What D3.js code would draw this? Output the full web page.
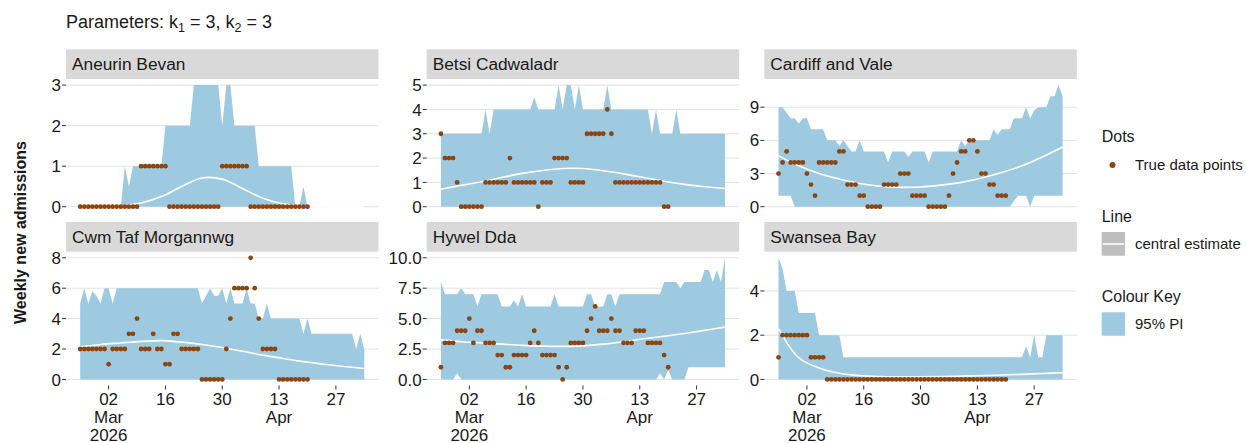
<!DOCTYPE html>
<html>
<head>
<meta charset="utf-8">
<script src="https://cdn.jsdelivr.net/npm/d3@7"></script>
<style>
body { margin: 0; background: #fff; }
text { font-family: "Liberation Sans", Arial, sans-serif; fill: #1a1a1a; }
</style>
</head>
<body>
<div class="container"></div>
<script>
// ---- data ----
var regionNames = ["Aneurin Bevan", "Betsi Cadwaladr", "Cardiff and Vale",
                   "Cwm Taf Morgannwg", "Hywel Dda", "Swansea Bay"];
var firstDay = "2026-02-23";           // day 0, daily steps
var centralDays = [0, 5, 10, 15, 20, 25, 30, 35, 40, 45, 50, 55, 60, 65, 70];

var aneurinDots = [0,0,0,0,0,0,0,0,0,0, 0,0,0,0,0,1,1,1,1,1, 1,1,0,0,0,0,0,0,0,0, 0,0,0,0,0,1,1,1,1,1, 1,1,0,0,0,0,0,0,0,0, 0,0,0,0,0,0,0];
var aneurinUpper = [0,0,0,0,0,0,0,0,0,0, 0,1,0.5,1,1,1,1,1,1,1, 1,2,2,2,2,2,2,2,3,3, 3,3,3,3,3,2,3,3,2,2, 2,2,2,2,1,1,1,1,1,1, 1,1,1,0,0,0.5,0,0,0,0, 0,0,0,0,0,0,0,0,0,0, 0];
var aneurinLower = [0,0,0,0,0,0,0,0,0,0, 0,0,0,0,0,0,0,0,0,0, 0,0,0,0,0,0,0,0,0,0, 0,0,0,0,0,0,0,0,0,0, 0,0,0,0,0,0,0,0,0,0, 0,0,0,0,0,0,0,0,0,0, 0,0,0,0,0,0,0,0,0,0, 0];
var aneurinCentral = [0, 0.005, 0.02, 0.09, 0.25, 0.5, 0.71, 0.68, 0.45, 0.21, 0.07, 0.015, 0, 0, 0];

var betsiDots = [3,2,2,2,1,0,0,0,0,0, 0,1,1,1,1,1,1,2,1,1, 1,1,1,1,0,1,1,1,2,2, 2,2,1,1,1,1,3,3,3,3, 3,4,3,1,1,1,1,1,1,1, 1,1,1,1,1,0,0];
var betsiUpper = [3,3,3,3,3,3,3,3,3,3, 3,4,3,4,4,4,4,4,4,4, 4,4,4,4.5,4,4,4,4,4,5, 4,5,5,4,5,4,4,4,4,4, 4,5,4,4,4,4,4,4,4,4, 4,4,3,4,3,3,3,3,4,3, 3,3,3,3,3,3,3,3,3,3, 3];
var betsiLower = [0,0,0,0,0,0,0,0,0,0, 0,0,0,0,0,0,0,0,0,0, 0,0,0,0,0,0,0,0,0,0, 0,0,0,0,0,0,0,0,0,0, 0,0,0,0,0,0,0,0,0,0, 0,0,0,0,0,0,0,0,0,0, 0,0,0,0,0,0,0,0,0,0, 0];
var betsiCentral = [0.72, 0.88, 1.03, 1.2, 1.37, 1.49, 1.57, 1.57, 1.48, 1.35, 1.2, 1.05, 0.92, 0.82, 0.75];

var cardiffDots = [3,4,5,4,4,4,4,3,2,1, 4,4,4,4,4,5,5,2,2,2, 1,1,0,0,0,0,2,2,2,2, 3,3,3,1,1,1,1,0,0,0, 0,0,1,3,4,5,5,6,6,5, 3,3,2,2,1,1,1];
var cardiffUpper = [9,9,8.5,8,8,7.5,8,8,7,7, 7,7,6,6,6,5.5,6,5.5,5,5, 6,5,5,5,5,5,5,4,5,5, 5,5,4.5,5,5,5,5,4,5,5, 5,5,5,5,5,6,5.5,6,6,6, 6,6,6,7,6.5,7,7,7,8,8, 8,9,8,8.7,9,9,9,10,10,11, 10];
var cardiffLower = [1,1,1,1,0,0,0,0,0,0, 0,0,0,0,0,0,0,0,0,0, 0,0,0,0,0,0,0,0,0,0, 0,0,0,0,0,0,0,0,0,0, 0,0,0,0,0,0,0,0,0,0, 0,0,0,0,0,0,0,0,0.5,1, 1,1,0,1,1,1,1,1,1,1, 1];
var cardiffCentral = [4.6, 3.7, 3.0, 2.5, 2.1, 1.85, 1.75, 1.78, 1.95, 2.2, 2.6, 3.1, 3.7, 4.5, 5.4];

var cwmDots = [2,2,2,2,2,2,2,1,2,2, 2,2,3,3,4,2,2,2,3,2, 2,1,1,3,3,2,2,2,2,2, 0,0,0,0,0,0,2,4,6,6, 6,6,8,6,4,2,2,2,2,0, 0,0,0,0,0,0,0];
var cwmUpper = [5,6,5,5.8,5.5,5,6,6,5,6, 6,6,6,6,6,6,6,6,6,6, 6,6,6,6,6,6,6,6,6,6, 5,5.5,6,5.5,5.5,6,5,6,5,5, 5,6,5,5,4,4,5,4,4,4, 4,4,4,4,4,3,4,3,3,3, 3,3,3,3,3,3,3,3,2,3, 2];
var cwmLower = [0,0,0,0,0,0,0,0,0,0, 0,0,0,0,0,0,0,0,0,0, 0,0,0,0,0,0,0,0,0,0, 0,0,0,0,0,0,0,0,0,0, 0,0,0,0,0,0,0,0,0,0, 0,0,0,0,0,0,0,0,0,0, 0,0,0,0,0,0,0,0,0,0, 0];
var cwmCentral = [2.15, 2.3, 2.4, 2.5, 2.55, 2.45, 2.3, 2.1, 1.85, 1.6, 1.38, 1.17, 1.0, 0.85, 0.72];

var hywelDots = [1,3,3,3,4,4,4,5,3,4, 4,3,3,3,2,2,1,1,2,2, 2,2,3,4,3,2,2,2,2,1, 0,1,3,3,3,3,4,5,6,4, 4,4,5,4,4,3,3,3,4,4, 4,3,3,3,3,2,1];
var hywelUpper = [8,7,7,7,7,7.5,7,7,7,6, 7,7,7,7,7,6,6,6,6.5,6, 7,6,6,6,6,6,6,6,7,6, 6,6,6,6,6,6,7,7,6,6, 6,7,7,6,7,7,7,7,7,7, 7,7,7,7,7,8,8,8,8,7.5, 8,8,8,8,8,9,9,8,9,8, 10];
var hywelLower = [0,0,0,0,0.5,0,0,0,0,0, 0,0,0,0,0,0,0,0,0,0, 0,0,0,0,0,0,0,0,0,0, 0,0,0,0,0,0,0,0,0,0, 0,0,0,0,0,0,0,0,0,0, 0,0,0,0,0.5,0,0.8,0,0,0, 0,1,1,1,1,1,1,1,1,1, 1];
var hywelCentral = [3.25, 3.1, 3.0, 2.9, 2.8, 2.74, 2.72, 2.76, 2.9, 3.1, 3.34, 3.55, 3.78, 4.03, 4.3];

var swanseaDots = [1,2,2,2,2,2,2,2,1,1, 1,1,0,0,0,0,0,0,0,0, 0,0,0,0,0,0,0,0,0,0, 0,0,0,0,0,0,0,0,0,0, 0,0,0,0,0,0,0,0,0,0, 0,0,0,0,0,0,0];
var swanseaUpper = [5.5,5,4,4,4,3,3,3,3,3, 2,2,2,2,2,2,1,1,1,1, 1,1,1,1,1,1,1,1,1,1, 1,1,1,1,1,1,1,1,1,1, 1,1,1,1,1,1,1,1,1,1, 1,1,1,1,1,1,1,1,1,1, 1,1.5,1,2,1,1,2,2,2,2, 2];
var swanseaLower = [0,0,0,0,0,0,0,0,0,0, 0,0,0,0,0,0,0,0,0,0, 0,0,0,0,0,0,0,0,0,0, 0,0,0,0,0,0,0,0,0,0, 0,0,0,0,0,0,0,0,0,0, 0,0,0,0,0,0,0,0,0,0, 0,0,0,0,0,0,0,0,0,0, 0];
var swanseaCentral = [2.3, 0.98, 0.52, 0.28, 0.17, 0.13, 0.12, 0.12, 0.13, 0.15, 0.17, 0.2, 0.23, 0.27, 0.3];

// y ticks per panel (free y scales)
var yTicks = [[0,1,2,3], [0,1,2,3,4,5], [0,3,6,9], [0,2,4,6,8], [0,2.5,5,7.5,10], [0,2,4]];
var yTickFormat = ["d", "d", "d", "d", ".1f", "d"];

// x ticks
var xTickDates = ["2026-03-02", "2026-03-16", "2026-03-30", "2026-04-13", "2026-04-27"];
var xTickLabels = [["02", "Mar", "2026"], ["16"], ["30"], ["13", "Apr"], ["27"]];

var panels = [
  {dots: aneurinDots, upper: aneurinUpper, lower: aneurinLower, central: aneurinCentral},
  {dots: betsiDots, upper: betsiUpper, lower: betsiLower, central: betsiCentral},
  {dots: cardiffDots, upper: cardiffUpper, lower: cardiffLower, central: cardiffCentral},
  {dots: cwmDots, upper: cwmUpper, lower: cwmLower, central: cwmCentral},
  {dots: hywelDots, upper: hywelUpper, lower: hywelLower, central: hywelCentral},
  {dots: swanseaDots, upper: swanseaUpper, lower: swanseaLower, central: swanseaCentral}
];

// ---- colours / layout ----
var bandColor = "#9ecae1";
var dotColor = "#8b4513";
var stripColor = "#d9d9d9";
var gridColor = "#e2e2e2";

var panelLeft = [66, 426.7, 764.3];
var panelTop = [79, 251.7];
var panelW = 312.5, panelH = 133.8, stripH = 29.7;

var parseDay = d3.utcParse("%Y-%m-%d");
var day0 = parseDay(firstDay);
function dayAt(i) { return d3.utcDay.offset(day0, i); }

//Makes the stage
function makeStage(w, h) {
  return d3.select(".container")
    .append("svg")
    .attr("width", w)
    .attr("height", h)
    .style("display", "block")
    .style("background-color", "#fff");
}

var stage = makeStage(1246, 443);

// title with subscripts
var title = stage.append("text")
  .attr("x", 66).attr("y", 28)
  .attr("font-size", 18);
title.append("tspan").text("Parameters: k");
title.append("tspan").attr("dy", 4).attr("font-size", 12.5).text("1");
title.append("tspan").attr("dy", -4).text(" = 3, k");
title.append("tspan").attr("dy", 4).attr("font-size", 12.5).text("2");
title.append("tspan").attr("dy", -4).text(" = 3");

// y axis title
stage.append("text")
  .attr("transform", "translate(26,232.5) rotate(-90)")
  .attr("text-anchor", "middle")
  .attr("font-size", 16)
  .attr("font-weight", "bold")
  .text("Weekly new admissions");

function drawPanel(idx) {
  var p = panels[idx];
  var col = idx % 3, row = Math.floor(idx / 3);
  var x0 = panelLeft[col], y0 = panelTop[row];
  var g = stage.append("g");

  var nDays = p.upper.length - 1;
  var pad = nDays * 0.05;
  var x = d3.scaleUtc()
    .domain([d3.utcHour.offset(dayAt(0), -pad * 24), d3.utcHour.offset(dayAt(nDays), pad * 24)])
    .range([x0, x0 + panelW]);

  var ymax = Math.max(d3.max(p.upper), d3.max(p.dots));
  var y = d3.scaleLinear()
    .domain([-ymax * 0.05, ymax * 1.05])
    .range([y0 + panelH, y0]);

  // strip
  g.append("rect")
    .attr("x", x0).attr("y", y0 - stripH)
    .attr("width", panelW).attr("height", stripH)
    .attr("fill", stripColor);
  g.append("text")
    .attr("x", x0 + 6).attr("y", y0 - stripH / 2)
    .attr("dy", "0.36em")
    .attr("font-size", 17.3)
    .text(regionNames[idx]);

  // horizontal grid + y axis
  var fmt = d3.format(yTickFormat[idx]);
  yTicks[idx].forEach(function (t) {
    g.append("line")
      .attr("x1", x0).attr("x2", x0 + panelW)
      .attr("y1", y(t)).attr("y2", y(t))
      .attr("stroke", gridColor).attr("stroke-width", 1);
    g.append("line")
      .attr("x1", x0 - 4).attr("x2", x0)
      .attr("y1", y(t)).attr("y2", y(t))
      .attr("stroke", "#333").attr("stroke-width", 1);
    g.append("text")
      .attr("x", x0 - 5).attr("y", y(t))
      .attr("dy", "0.36em")
      .attr("text-anchor", "end")
      .attr("font-size", 17)
      .text(fmt(t));
  });

  // 95% PI ribbon
  var area = d3.area()
    .x(function (d, i) { return x(dayAt(i)); })
    .y0(function (d, i) { return y(p.lower[i]); })
    .y1(function (d) { return y(d); });
  g.append("path")
    .datum(p.upper)
    .attr("d", area)
    .attr("fill", bandColor);

  // central estimate
  var line = d3.line()
    .x(function (d, i) { return x(dayAt(centralDays[i])); })
    .y(function (d) { return y(d); })
    .curve(d3.curveCatmullRom.alpha(0.5));
  g.append("path")
    .datum(p.central)
    .attr("d", line)
    .attr("fill", "none")
    .attr("stroke", "#fff")
    .attr("stroke-width", 1.6);

  // true data points
  g.selectAll("circle")
    .data(p.dots)
    .enter().append("circle")
    .attr("cx", function (d, i) { return x(dayAt(i)); })
    .attr("cy", function (d) { return y(d); })
    .attr("r", 2.4)
    .attr("fill", dotColor);

  // x axis on bottom row only
  if (row === 1) {
    var yb = y0 + panelH;
    xTickDates.forEach(function (s, k) {
      var tx = x(parseDay(s));
      g.append("line")
        .attr("x1", tx).attr("x2", tx)
        .attr("y1", yb).attr("y2", yb + 4)
        .attr("stroke", "#333");
      var t = g.append("text")
        .attr("x", tx).attr("y", yb + 19)
        .attr("text-anchor", "middle")
        .attr("font-size", 17);
      xTickLabels[k].forEach(function (lab, j) {
        t.append("tspan").attr("x", tx).attr("dy", j === 0 ? 0 : 18).text(lab);
      });
    });
  }
}

for (var i = 0; i < panels.length; i++) drawPanel(i);

// legend
var lg = stage.append("g");
var lx = 1101.7;
function legendTitle(txt, cy) {
  lg.append("text").attr("x", lx).attr("y", cy).attr("dy", "0.36em")
    .attr("font-size", 16).text(txt);
}
function legendLabel(txt, cy) {
  lg.append("text").attr("x", 1135).attr("y", cy).attr("dy", "0.36em")
    .attr("font-size", 15).text(txt);
}
legendTitle("Dots", 136.7);
lg.append("circle").attr("cx", 1112.5).attr("cy", 165).attr("r", 3).attr("fill", dotColor);
legendLabel("True data points", 165);

legendTitle("Line", 216.7);
lg.append("rect").attr("x", lx).attr("y", 232).attr("width", 23.3).attr("height", 23.7).attr("fill", "#bebebe");
lg.append("line").attr("x1", lx + 1).attr("x2", lx + 22.3).attr("y1", 244).attr("y2", 244)
  .attr("stroke", "#fff").attr("stroke-width", 1.6);
legendLabel("central estimate", 244);

legendTitle("Colour Key", 296.7);
lg.append("rect").attr("x", lx).attr("y", 312.3).attr("width", 23.3).attr("height", 23.4).attr("fill", bandColor);
legendLabel("95% PI", 324);
</script>
</body>
</html>
